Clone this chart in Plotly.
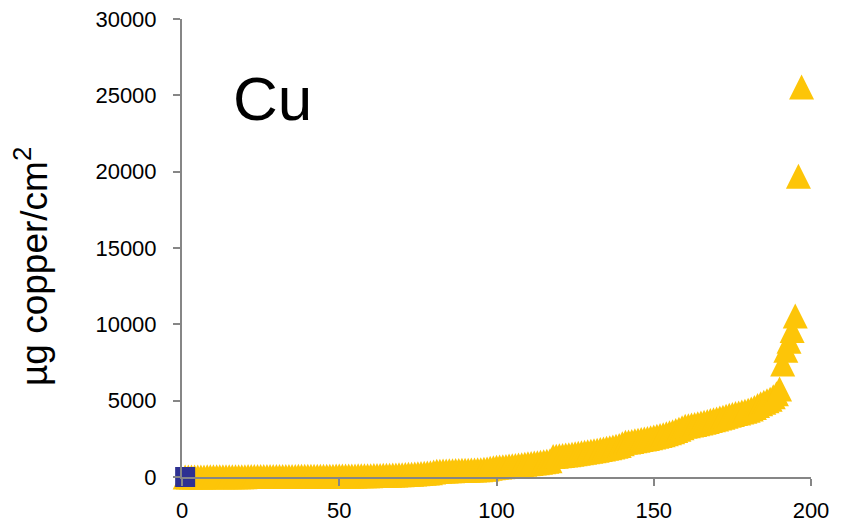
import plotly.graph_objects as go

# ---- data ----
rank = list(range(1, 198))
copper_ug_cm2 = [
    0, 1, 3, 4, 5, 7, 8, 9, 10, 12, 13, 14, 15, 16, 18, 19, 20, 21, 23, 24,
    25, 26, 27, 28, 29, 30, 31, 32, 33, 34, 35, 36, 37, 38, 39, 40, 41, 42, 43, 44, 45, 46, 47, 48, 50,
    52, 54, 56, 58, 60, 62, 65, 68, 70, 73, 76, 79, 82, 86, 90,
    95, 100, 105, 110, 115, 120, 126, 132, 140, 150,
    160, 172, 185, 198, 210, 225, 240, 255, 275, 330,
    370, 380, 390, 398, 405, 412, 420, 428, 436, 442, 450, 458, 466, 474, 482,
    500, 530, 565, 600, 635,
    655, 675, 695, 715, 740, 760, 785, 810,
    835, 860, 885, 910, 940, 970, 1000, 1035, 1070,
    1340, 1360, 1385, 1410, 1435, 1460, 1495, 1530,
    1560, 1590, 1620, 1655, 1690, 1725, 1760, 1800, 1835,
    1880, 1920, 1960, 2010, 2060, 2170, 2270,
    2300, 2330, 2370, 2410, 2450, 2490, 2530, 2570, 2620, 2670, 2720, 2770,
    2830, 2900, 2970, 3050, 3130, 3230, 3320,
    3360, 3400, 3440, 3490, 3540, 3590, 3640, 3700, 3750, 3800, 3860,
    3920, 3980, 4040, 4100, 4160, 4200, 4250, 4310, 4370,
    4450, 4560, 4680, 4800, 4900, 5000, 5100, 5250, 5450, 5760,
    7400, 8300, 8900, 9600, 10550, 19700, 25550,
]
ref_x = [1]
ref_y = [0]
x_ticks = [0, 50, 100, 150, 200]
y_ticks = [0, 5000, 10000, 15000, 20000, 25000, 30000]
y_tick_text = ["0", "5000", "10000", "15000", "20000", "25000", "30000"]
y_title = "µg copper/cm<sup>2</sup>"
label = "Cu"

FONT = "Liberation Sans, Arial, sans-serif"
AXIS = "#868686"
TRI = 25
PAGE_OFF = 8  # default body margin of the html page

fig = go.Figure()
# isosceles triangle (width == height) centred on the point, like Excel's marker
fig.add_trace(go.Scatter(
    x=rank, y=copper_ug_cm2, mode="markers",
    marker=dict(symbol="arrow-down", angle=180, standoff=TRI / 2, size=TRI,
                color="#FDC508", line=dict(width=0)),
    cliponaxis=False, showlegend=False,
))
fig.add_trace(go.Scatter(
    x=ref_x, y=ref_y, mode="markers",
    marker=dict(symbol="square", size=20, color="#2E3192", line=dict(width=0)),
    cliponaxis=False, showlegend=False,
))

fig.update_layout(
    width=850 - PAGE_OFF, height=524 - PAGE_OFF,
    margin=dict(l=182 - PAGE_OFF, r=39, t=19 - PAGE_OFF, b=47, autoexpand=False),
    paper_bgcolor="white", plot_bgcolor="white",
    font=dict(family=FONT, color="black", size=22),
    xaxis=dict(range=[0, 200], tickvals=x_ticks, showgrid=False, zeroline=False,
               automargin=False, ticklabeloverflow="allow",
               showline=True, linecolor=AXIS, linewidth=2, ticks="outside",
               ticklen=7, tickwidth=2, tickcolor=AXIS, ticklabelstandoff=6,
               tickfont=dict(size=22)),
    yaxis=dict(range=[0, 30000], tickvals=y_ticks, ticktext=y_tick_text,
               showgrid=False, zeroline=False, automargin=False,
               ticklabeloverflow="allow",
               showline=True, linecolor=AXIS, linewidth=2, ticks="outside",
               ticklen=7, tickwidth=2, tickcolor=AXIS, ticklabelstandoff=12,
               tickfont=dict(size=22)),
    annotations=[
        dict(text=y_title, textangle=-90, xref="paper", yref="paper",
             x=(31 - 182) / 629, y=(477 - 267) / 458, xanchor="center", yanchor="middle",
             showarrow=False, font=dict(size=37)),
        dict(text=label, xref="paper", yref="paper",
             x=(272 - 182) / 629, y=(477 - 98) / 458, xanchor="center", yanchor="middle",
             showarrow=False, font=dict(size=62)),
    ],
)

fig.write_html("out.html")
